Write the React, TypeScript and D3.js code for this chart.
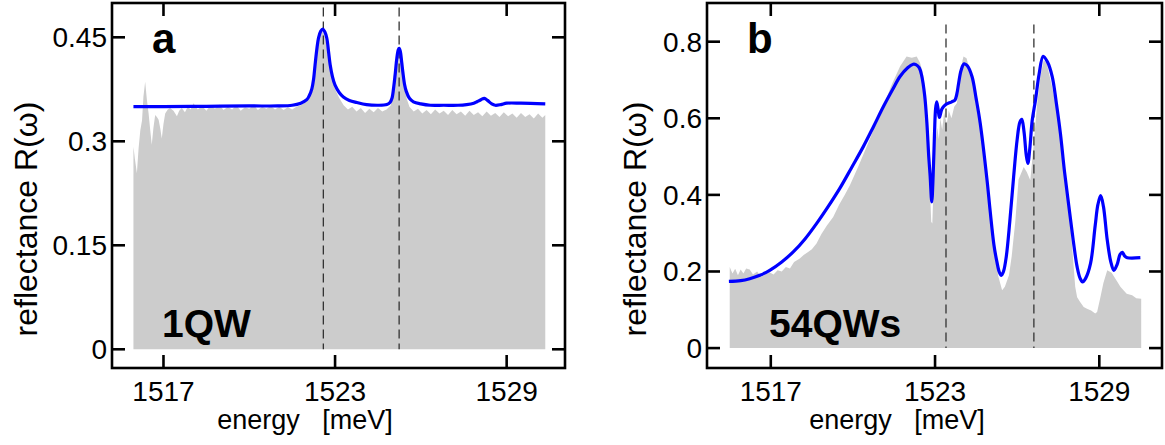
import React from "react";
import * as d3 from "d3";

// ---------- data ----------
const xTicks = [1517, 1523, 1529];
const yTicksA = [0, 0.15, 0.3, 0.45];
const yTickLabelsA = ["0", "0.15", "0.3", "0.45"];
const yTicksB = [0, 0.2, 0.4, 0.6, 0.8];
const yTickLabelsB = ["0", "0.2", "0.4", "0.6", "0.8"];
const dashedA = [1522.59, 1525.24];
const dashedB = [1523.4, 1526.61];

// measured reflectance (gray), panel a: [energy meV, R]
const measuredA: [number, number][] = [
  [1515.95, 0.292], [1516.0, 0.275], [1516.07, 0.254], [1516.13, 0.29], [1516.19, 0.316],
  [1516.25, 0.33], [1516.3, 0.365], [1516.36, 0.386], [1516.42, 0.36], [1516.48, 0.34],
  [1516.54, 0.315], [1516.59, 0.295], [1516.65, 0.32], [1516.71, 0.338], [1516.77, 0.335],
  [1516.83, 0.331], [1516.89, 0.318], [1516.94, 0.304], [1517.0, 0.325], [1517.06, 0.34],
  [1517.15, 0.346], [1517.23, 0.348], [1517.35, 0.344], [1517.47, 0.336], [1517.55, 0.344],
  [1517.64, 0.348], [1517.75, 0.342], [1517.85, 0.35], [1517.95, 0.346], [1518.05, 0.355],
  [1518.2, 0.346], [1518.35, 0.351], [1518.5, 0.344], [1518.65, 0.352], [1518.8, 0.347],
  [1518.95, 0.353], [1519.1, 0.345], [1519.25, 0.35], [1519.4, 0.346], [1519.55, 0.352],
  [1519.7, 0.344], [1519.85, 0.349], [1520.0, 0.347], [1520.15, 0.353], [1520.3, 0.345],
  [1520.45, 0.35], [1520.6, 0.347], [1520.75, 0.351], [1520.9, 0.346], [1521.05, 0.35],
  [1521.2, 0.345], [1521.35, 0.349], [1521.5, 0.346], [1521.65, 0.35], [1521.8, 0.352],
  [1521.95, 0.356], [1522.1, 0.366], [1522.2, 0.376], [1522.3, 0.405], [1522.4, 0.44],
  [1522.5, 0.455], [1522.57, 0.458], [1522.65, 0.45], [1522.72, 0.435], [1522.8, 0.41],
  [1522.9, 0.39], [1523.0, 0.375], [1523.15, 0.362], [1523.3, 0.352], [1523.45, 0.346],
  [1523.6, 0.35], [1523.75, 0.343], [1523.9, 0.348], [1524.05, 0.341], [1524.2, 0.347],
  [1524.35, 0.342], [1524.5, 0.348], [1524.65, 0.343], [1524.8, 0.346], [1524.95, 0.352],
  [1525.05, 0.375], [1525.13, 0.405], [1525.2, 0.425], [1525.25, 0.428], [1525.32, 0.41],
  [1525.4, 0.385], [1525.5, 0.362], [1525.6, 0.35], [1525.75, 0.343], [1525.9, 0.347],
  [1526.05, 0.34], [1526.2, 0.345], [1526.35, 0.339], [1526.5, 0.346], [1526.65, 0.34],
  [1526.8, 0.344], [1526.95, 0.338], [1527.1, 0.345], [1527.25, 0.339], [1527.4, 0.343],
  [1527.55, 0.337], [1527.7, 0.344], [1527.85, 0.338], [1528.0, 0.342], [1528.15, 0.336],
  [1528.3, 0.343], [1528.45, 0.337], [1528.6, 0.341], [1528.75, 0.335], [1528.9, 0.342],
  [1529.05, 0.336], [1529.2, 0.34], [1529.35, 0.334], [1529.5, 0.341], [1529.65, 0.335],
  [1529.8, 0.339], [1529.95, 0.333], [1530.1, 0.34], [1530.25, 0.334], [1530.35, 0.338],
];

// calculated reflectance (blue), panel a
const modelA: [number, number][] = [
  [1515.95, 0.35], [1517.0, 0.35], [1518.5, 0.3505], [1520.0, 0.351], [1521.0, 0.351],
  [1521.5, 0.352], [1521.8, 0.355], [1522.01, 0.36], [1522.1, 0.366], [1522.19, 0.376],
  [1522.25, 0.39], [1522.3, 0.41], [1522.36, 0.432], [1522.42, 0.449], [1522.5, 0.459],
  [1522.57, 0.462], [1522.64, 0.458], [1522.71, 0.449], [1522.77, 0.43], [1522.83, 0.41],
  [1522.91, 0.393], [1523.0, 0.381], [1523.15, 0.37], [1523.29, 0.364], [1523.5, 0.359],
  [1523.76, 0.356], [1524.1, 0.353], [1524.5, 0.352], [1524.81, 0.353], [1524.92, 0.356],
  [1524.99, 0.362], [1525.05, 0.378], [1525.1, 0.396], [1525.16, 0.42], [1525.21, 0.432],
  [1525.24, 0.434], [1525.28, 0.43], [1525.33, 0.414], [1525.37, 0.4], [1525.43, 0.382],
  [1525.49, 0.372], [1525.6, 0.362], [1525.74, 0.357], [1526.0, 0.354], [1526.33, 0.352],
  [1526.8, 0.352], [1527.3, 0.352], [1527.6, 0.353], [1527.85, 0.355], [1527.96, 0.357],
  [1528.1, 0.36], [1528.22, 0.362], [1528.33, 0.359], [1528.48, 0.354], [1528.6, 0.352],
  [1528.8, 0.353], [1529.0, 0.355], [1529.5, 0.355], [1530.35, 0.354],
];

// measured reflectance (gray), panel b
const measuredB: [number, number][] = [
  [1515.5, 0.212], [1515.6, 0.195], [1515.7, 0.207], [1515.8, 0.19], [1515.9, 0.205],
  [1516.0, 0.195], [1516.1, 0.208], [1516.23, 0.205], [1516.35, 0.192], [1516.5, 0.2],
  [1516.65, 0.186], [1516.8, 0.193], [1516.95, 0.198], [1517.1, 0.192], [1517.25, 0.203],
  [1517.4, 0.2], [1517.55, 0.212], [1517.7, 0.208], [1517.85, 0.225], [1518.06, 0.234],
  [1518.2, 0.243], [1518.35, 0.25], [1518.5, 0.258], [1518.67, 0.273], [1518.85, 0.298],
  [1519.05, 0.32], [1519.28, 0.342], [1519.5, 0.375], [1519.7, 0.4], [1519.89, 0.425],
  [1520.2, 0.475], [1520.5, 0.526], [1520.8, 0.578], [1521.11, 0.63], [1521.4, 0.685],
  [1521.72, 0.735], [1521.96, 0.761], [1522.15, 0.758], [1522.33, 0.761], [1522.45, 0.745],
  [1522.55, 0.72], [1522.65, 0.665], [1522.73, 0.56], [1522.8, 0.44], [1522.86, 0.33],
  [1522.9, 0.325], [1522.95, 0.43], [1523.0, 0.53], [1523.08, 0.575], [1523.14, 0.545],
  [1523.19, 0.6], [1523.26, 0.57], [1523.33, 0.615], [1523.43, 0.585], [1523.5, 0.62],
  [1523.6, 0.6], [1523.7, 0.63], [1523.8, 0.64], [1523.9, 0.7], [1524.0, 0.75],
  [1524.04, 0.761], [1524.15, 0.757], [1524.4, 0.691], [1524.77, 0.517], [1525.14, 0.299],
  [1525.3, 0.19], [1525.45, 0.151], [1525.55, 0.16], [1525.7, 0.19], [1525.8, 0.24],
  [1525.93, 0.33], [1526.05, 0.44], [1526.24, 0.473], [1526.35, 0.46], [1526.48, 0.438],
  [1526.6, 0.53], [1526.72, 0.63], [1526.85, 0.71], [1526.97, 0.752], [1527.08, 0.743],
  [1527.25, 0.69], [1527.46, 0.621], [1527.65, 0.52], [1527.83, 0.421], [1527.98, 0.29],
  [1528.12, 0.16], [1528.19, 0.133], [1528.3, 0.12], [1528.43, 0.107], [1528.55, 0.103],
  [1528.7, 0.098], [1528.85, 0.09], [1528.92, 0.094], [1529.04, 0.133], [1529.15, 0.17],
  [1529.29, 0.203], [1529.45, 0.197], [1529.6, 0.18], [1529.77, 0.16], [1529.9, 0.15],
  [1530.0, 0.142], [1530.2, 0.138], [1530.35, 0.13], [1530.53, 0.129],
];

// calculated reflectance (blue), panel b
const modelB: [number, number][] = [
  [1515.47, 0.174], [1515.9, 0.176], [1516.23, 0.181], [1516.6, 0.19], [1516.96, 0.203],
  [1517.4, 0.225], [1517.82, 0.251], [1518.25, 0.285], [1518.67, 0.325], [1519.1, 0.37],
  [1519.52, 0.417], [1519.95, 0.471], [1520.38, 0.526], [1520.75, 0.578], [1521.11, 0.63],
  [1521.45, 0.675], [1521.72, 0.709], [1522.0, 0.732], [1522.2, 0.741], [1522.3, 0.74],
  [1522.42, 0.732], [1522.51, 0.712], [1522.62, 0.66], [1522.7, 0.59], [1522.77, 0.5],
  [1522.82, 0.45], [1522.88, 0.382], [1522.93, 0.45], [1522.98, 0.56], [1523.02, 0.625],
  [1523.06, 0.643], [1523.11, 0.625], [1523.16, 0.602], [1523.25, 0.624], [1523.37, 0.635],
  [1523.61, 0.643], [1523.73, 0.648], [1523.8, 0.665], [1523.86, 0.691], [1523.95, 0.725],
  [1524.06, 0.742], [1524.18, 0.737], [1524.35, 0.709], [1524.5, 0.652], [1524.65, 0.587],
  [1524.9, 0.438], [1525.01, 0.36], [1525.15, 0.27], [1525.26, 0.225], [1525.35, 0.198],
  [1525.42, 0.19], [1525.5, 0.2], [1525.6, 0.238], [1525.73, 0.33], [1525.87, 0.447],
  [1526.0, 0.545], [1526.1, 0.59], [1526.17, 0.597], [1526.25, 0.565], [1526.33, 0.505],
  [1526.39, 0.482], [1526.46, 0.52], [1526.55, 0.595], [1526.67, 0.648], [1526.8, 0.715],
  [1526.95, 0.762], [1527.1, 0.748], [1527.28, 0.709], [1527.43, 0.64], [1527.58, 0.56],
  [1527.73, 0.46], [1527.89, 0.369], [1528.05, 0.28], [1528.19, 0.212], [1528.3, 0.182],
  [1528.39, 0.173], [1528.5, 0.182], [1528.68, 0.221], [1528.85, 0.32], [1528.95, 0.375],
  [1529.05, 0.398], [1529.15, 0.37], [1529.29, 0.282], [1529.42, 0.225], [1529.53, 0.203],
  [1529.65, 0.218], [1529.76, 0.245], [1529.84, 0.25], [1529.93, 0.24], [1530.02, 0.236],
  [1530.5, 0.236],
];

const FONT = "'Liberation Sans', Arial, Helvetica, sans-serif";

type PanelProps = {
  left: number; right: number; top: number; bottom: number;
  xDomain: [number, number]; yDomain: [number, number];
  yTicks: number[]; yTickLabels: string[];
  measured: [number, number][]; model: [number, number][];
  dashed: number[]; dashTop: number;
  letter: string; sample: string; sampleX: number;
  yLabelX: number; xLabelX: number;
};

function Panel(p: PanelProps) {
  const x = d3.scaleLinear().domain(p.xDomain).range([p.left, p.right]);
  const y = d3.scaleLinear().domain(p.yDomain).range([p.bottom, p.top]);
  const area = d3.area<[number, number]>().x(d => x(d[0])).y0(y(0)).y1(d => y(d[1]));
  const line = d3.line<[number, number]>().x(d => x(d[0])).y(d => y(d[1])).curve(d3.curveCatmullRom.alpha(0.5));
  const tl = 13;
  const sw = 2.6;
  return (
    <g>
      <path d={area(p.measured) || ""} fill="#cccccc" stroke="none" />
      {p.dashed.map((e, i) => (
        <line key={"d" + i} x1={x(e)} x2={x(e)} y1={y(p.dashTop)} y2={y(0)}
          stroke="#333" strokeWidth={1.3} strokeDasharray="9,5" />
      ))}
      <path d={line(p.model) || ""} fill="none" stroke="#0000ff" strokeWidth={3.2} strokeLinejoin="round" />
      <rect x={p.left} y={p.top} width={p.right - p.left} height={p.bottom - p.top}
        fill="none" stroke="#000" strokeWidth={sw} />
      {xTicks.map(t => (
        <g key={"xt" + t}>
          <line x1={x(t)} x2={x(t)} y1={p.bottom} y2={p.bottom - tl} stroke="#000" strokeWidth={sw} />
          <line x1={x(t)} x2={x(t)} y1={p.top} y2={p.top + tl} stroke="#000" strokeWidth={sw} />
          <text x={x(t)} y={401} textAnchor="middle" fontFamily={FONT} fontSize={28}>{t}</text>
        </g>
      ))}
      {p.yTicks.map((t, i) => (
        <g key={"yt" + t}>
          <line x1={p.left} x2={p.left + tl} y1={y(t)} y2={y(t)} stroke="#000" strokeWidth={sw} />
          <line x1={p.right} x2={p.right - tl} y1={y(t)} y2={y(t)} stroke="#000" strokeWidth={sw} />
          <text x={p.left - 5} y={y(t) + 10} textAnchor="end" fontFamily={FONT} fontSize={28}>{p.yTickLabels[i]}</text>
        </g>
      ))}
      <text x={p.xLabelX} y={429} textAnchor="middle" fontFamily={FONT} fontSize={27}
        xmlSpace="preserve" style={{ whiteSpace: "pre" }}>
        {"energy   [meV]"}
      </text>
      <text transform={`translate(${p.yLabelX},${219}) rotate(-90)`} textAnchor="middle"
        fontFamily={FONT} fontSize={32}>reflectance R(ω)</text>
      <text x={p.left + 40} y={53} fontFamily={FONT} fontSize={42} fontWeight="bold">{p.letter}</text>
      <text x={p.sampleX} y={337} fontFamily={FONT} fontSize={39} fontWeight="bold">{p.sample}</text>
    </g>
  );
}

export default function App() {
  return (
    <svg width={1165} height={445} style={{ position: "absolute", left: 0, top: 0, background: "#fff" }}>
      <rect x={0} y={0} width={1165} height={445} fill="#fff" />
      <Panel left={112} right={565} top={3} bottom={368}
        xDomain={[1515.2, 1531.04]} yDomain={[-0.027, 0.4995]}
        yTicks={yTicksA} yTickLabels={yTickLabelsA}
        measured={measuredA} model={modelA} dashed={dashedA} dashTop={0.493}
        letter="a" sample="1QW" sampleX={162} yLabelX={37} xLabelX={305} />
      <Panel left={707} right={1162} top={3} bottom={368}
        xDomain={[1514.67, 1531.29]} yDomain={[-0.052, 0.901]}
        yTicks={yTicksB} yTickLabels={yTickLabelsB}
        measured={measuredB} model={modelB} dashed={dashedB} dashTop={0.845}
        letter="b" sample="54QWs" sampleX={769} yLabelX={646} xLabelX={897} />
    </svg>
  );
}
